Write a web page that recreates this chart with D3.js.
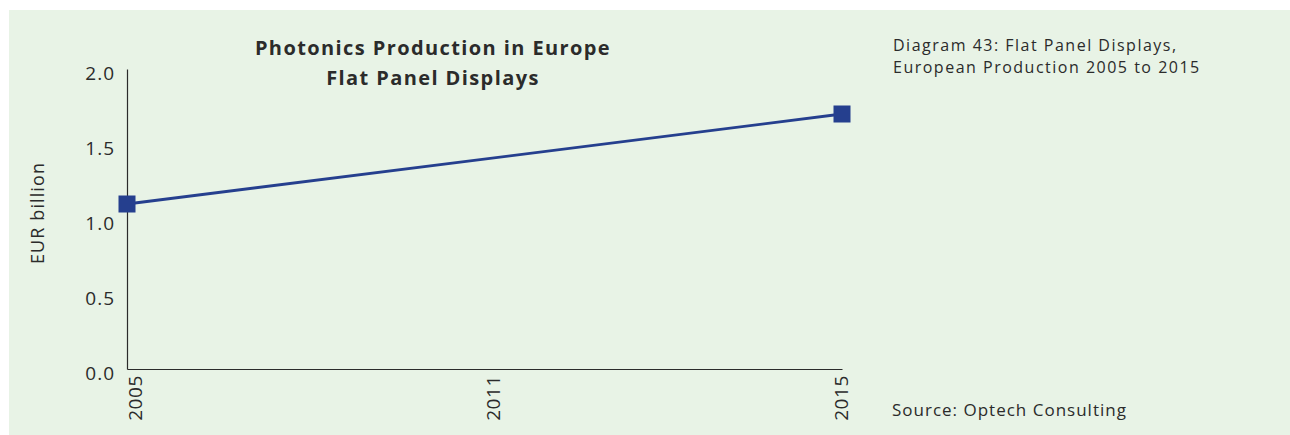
<!DOCTYPE html>
<html>
<head>
<meta charset="utf-8">
<script src="https://cdn.jsdelivr.net/npm/d3@7"></script>
<style>
  html, body { margin: 0; padding: 0; background: #ffffff; }
  svg { display: block; }
  text { font-family: "Open Sans", Lato, sans-serif; fill: #2b2b2b; }
</style>
</head>
<body>
<svg id="chart" width="1290" height="435"></svg>
<script>
// Category years shown on the x axis
const years = ["2005", "2011", "2015"];
// Production values (EUR billion) for the years that carry a marker
const pointYears = ["2005", "2015"];
const pointValues = [1.1, 1.7];
// Y axis tick labels
const yTicks = [0.0, 0.5, 1.0, 1.5, 2.0];

const titleLines = ["Photonics Production in Europe", "Flat Panel Displays"];
const captionLines = ["Diagram 43: Flat Panel Displays,", "European Production 2005 to 2015"];
const sourceText = "Source: Optech Consulting";

const svg = d3.select("#chart");
const W = 1290, H = 435;
const margin = { left: 127, right: 1290 - 842, top: 69, bottom: 435 - 369 };

// Panel background
svg.append("rect")
  .attr("x", 9).attr("y", 10)
  .attr("width", W - 9).attr("height", H - 10)
  .attr("fill", "#e8f3e6");

const x = d3.scalePoint().domain(years).range([margin.left, W - margin.right]);
const y = d3.scaleLinear().domain([0, 2]).range([H - margin.bottom, margin.top]);

// Y axis
const yAxis = svg.append("g")
  .attr("transform", `translate(${margin.left},0)`)
  .call(d3.axisLeft(y).tickValues(yTicks).tickFormat(d3.format(".1f")).tickSize(0).tickPadding(12));
yAxis.select(".domain").attr("stroke", "#2b2b2b").attr("stroke-width", 1.2);
yAxis.selectAll("text")
  .attr("font-size", 19)
  .attr("letter-spacing", 1)
  .attr("dy", "0.55em")
  .style("fill", "#2b2b2b");

// X axis
const xAxis = svg.append("g")
  .attr("transform", `translate(0,${H - margin.bottom})`)
  .call(d3.axisBottom(x).tickSize(0).tickPadding(0));
xAxis.select(".domain").attr("stroke", "#2b2b2b").attr("stroke-width", 1.2);
xAxis.selectAll("text")
  .attr("font-size", 19)
  .attr("letter-spacing", 0.6)
  .attr("text-anchor", "end")
  .attr("transform", "rotate(-90)")
  .attr("x", -6)
  .attr("dy", "0.35em")
  .each(function(d) {
    // shift each rotated label so it sits just right of its tick
    const off = d === "2015" ? -1 : 8;
    d3.select(this).attr("y", off);
  })
  .style("fill", "#2b2b2b");

// Y axis title
svg.append("text")
  .attr("transform", `translate(44,${213}) rotate(-90)`)
  .attr("text-anchor", "middle")
  .attr("font-size", 18)
  .attr("letter-spacing", 1.1)
  .text("EUR billion");

// Series line and markers
const pts = pointYears.map((yr, i) => ({ yr, v: pointValues[i] }));
const line = d3.line().x(d => x(d.yr)).y(d => y(d.v));
svg.append("path")
  .datum(pts)
  .attr("d", line)
  .attr("fill", "none")
  .attr("stroke", "#253f8e")
  .attr("stroke-width", 2.8);

const size = 17;
svg.selectAll("rect.marker")
  .data(pts)
  .enter().append("rect")
  .attr("class", "marker")
  .attr("x", d => x(d.yr) - size / 2)
  .attr("y", d => y(d.v) - size / 2)
  .attr("width", size).attr("height", size)
  .attr("fill", "#253f8e");

// Title
svg.append("text")
  .attr("x", 433).attr("y", 55)
  .attr("text-anchor", "middle")
  .attr("font-size", 20)
  .attr("font-weight", "bold")
  .attr("letter-spacing", 1.4)
  .selectAll("tspan")
  .data(titleLines)
  .enter().append("tspan")
  .attr("x", 433)
  .attr("dy", (d, i) => i === 0 ? 0 : 30)
  .text(d => d);

// Caption at top right, one text element per line
svg.selectAll("text.caption")
  .data(captionLines)
  .enter().append("text")
  .attr("class", "caption")
  .attr("x", 893)
  .attr("y", (d, i) => 51 + i * 22)
  .attr("font-size", 16)
  .attr("letter-spacing", 1.5)
  .text(d => d);

// Source note
svg.append("text")
  .attr("x", 892).attr("y", 416)
  .attr("font-size", 17)
  .attr("letter-spacing", 1)
  .text(sourceText);
</script>
</body>
</html>
